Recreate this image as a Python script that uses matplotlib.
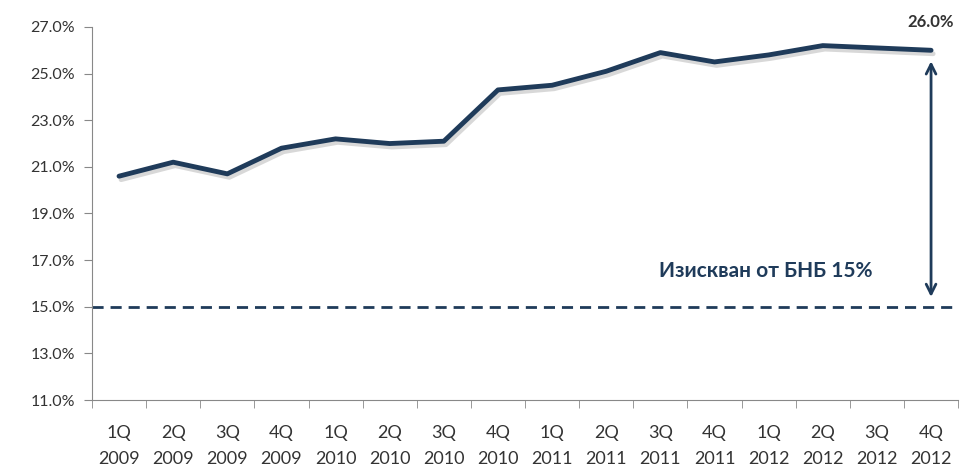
import numpy as np
import matplotlib
matplotlib.use("Agg")
from matplotlib import pyplot as plt
import matplotlib.patheffects as pe

plt.rcParams['font.family'] = ['Lato', 'DejaVu Sans']

quarters = ["1Q", "2Q", "3Q", "4Q"] * 4
years = ["2009"] * 4 + ["2010"] * 4 + ["2011"] * 4 + ["2012"] * 4
labels = [q + "\n" + y for q, y in zip(quarters, years)]
ratio = [20.6, 21.2, 20.7, 21.8, 22.2, 22.0, 22.1, 24.3,
         24.5, 25.1, 25.9, 25.5, 25.8, 26.2, 26.1, 26.0]
required = 15.0
yticks = [11, 13, 15, 17, 19, 21, 23, 25, 27]

navy = "#1f3b5a"
x = np.arange(len(ratio))

fig = plt.figure(figsize=(9.61, 4.73), dpi=100)
ax = fig.add_axes([0.0957, 0.1543, 0.9013, 0.7887])

# main line with a soft shadow
ax.plot(x, ratio, color=navy, lw=3.5, solid_capstyle="round", solid_joinstyle="round",
        path_effects=[pe.SimpleLineShadow(offset=(1.5, -2.5), alpha=0.3, shadow_color="gray"),
                      pe.Normal()], zorder=3)

# BNB requirement
ax.axhline(required, color=navy, lw=2, ls=(0, (4, 2.5)))

# double arrow between last value and requirement
ax.annotate("", xy=(x[-1], required + 0.3), xytext=(x[-1], ratio[-1] - 0.35),
            arrowprops=dict(arrowstyle="<->,head_length=0.7,head_width=0.35",
                            color=navy, lw=2))
ax.text(x[-1] - 3.05, 16.55, "Изискван от БНБ 15%", color=navy, fontsize=15,
        fontweight="bold", ha="center", va="center")
ax.text(x[-1], 27.2, "26.0%", color="#333333", fontsize=12, fontweight="bold",
        ha="center", va="center", clip_on=False)

ax.set_xlim(-0.5, len(ratio) - 0.5)
ax.set_ylim(11, 27)
ax.set_yticks(yticks)
ax.set_yticklabels([f"{v:.1f}%" for v in yticks], fontsize=11.5, color="#333333")

ax.set_xticks(x)
ax.set_xticklabels(labels, fontsize=13, color="#333333", linespacing=1.75)
ax.set_xticks(np.arange(-0.5, len(ratio)), minor=True)
ax.tick_params(axis="x", which="major", length=0, pad=18)
ax.tick_params(axis="x", which="minor", length=6, color="#888888", direction="out")
ax.tick_params(axis="y", length=6, color="#888888", direction="out", pad=6)

for s in ["top", "right"]:
    ax.spines[s].set_visible(False)
for s in ["left", "bottom"]:
    ax.spines[s].set_color("#888888")

fig.savefig("out.png", dpi=100)
